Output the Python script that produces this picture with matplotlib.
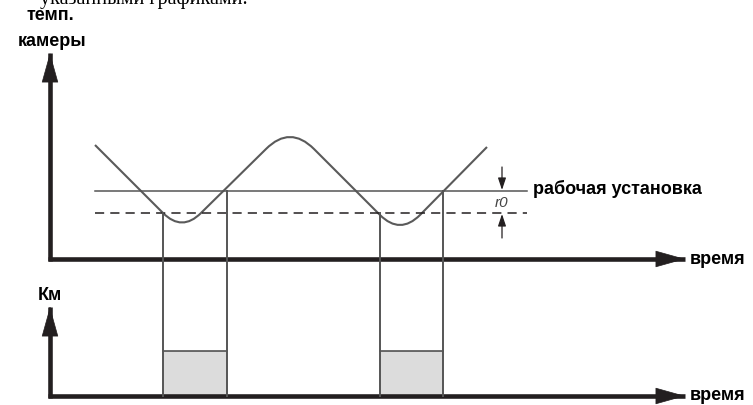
import matplotlib
matplotlib.use('Agg')
import matplotlib.pyplot as plt
from matplotlib.path import Path
from matplotlib.patches import PathPatch, Rectangle

# координаты схемы в пикселях картинки (y вниз)
setpoint = 191          # рабочая установка
lower = 213             # установка минус r0
x_left, x_right = 95, 527

# кривая температуры: опорные точки и контрольные точки скруглений
curve_pts = [(95, 145), (163, 213), (182, 232), (201, 213),
             (266, 149), (290, 125), (314, 149),
             (380, 215), (400, 235), (420, 215), (487, 147)]
curve_codes = [Path.MOVETO, Path.LINETO, Path.CURVE3, Path.CURVE3,
               Path.LINETO, Path.CURVE3, Path.CURVE3,
               Path.LINETO, Path.CURVE3, Path.CURVE3, Path.LINETO]

# компрессор: включение / выключение
km_on = [163, 380]
km_off = [227, 443]
km_level = 351

axis_top_y = 259
axis_bot_y = 396
axis_x = 50
axis_x_end = 685

axc = '#231f20'
linec = '#555555'

fig = plt.figure(figsize=(7.53, 4.05), dpi=100)
ax = fig.add_axes([0, 0, 1, 1])
ax.set_xlim(0, 753)
ax.set_ylim(405, 0)
ax.axis('off')

# обрезанная строка текста сверху
ax.text(40, 4, 'указанными графиками.', family='Liberation Serif', fontsize=14.5,
        ha='left', va='baseline', color='black')


def axis_arrow(x0, y0, x1, y1):
    ax.plot([x0, x1], [y0, y1], color=axc, lw=3.3, solid_capstyle='butt')
    ax.annotate('', xy=(x1, y1), xytext=(x1 - 0.01 * (x1 - x0), y1 - 0.01 * (y1 - y0)),
                arrowprops=dict(arrowstyle='-|>,head_length=1.0,head_width=0.28',
                                lw=0.5, color=axc, mutation_scale=20,
                                shrinkA=0, shrinkB=0))


axis_arrow(axis_x, axis_top_y + 2, axis_x, 53)
axis_arrow(axis_x - 2, axis_top_y, axis_x_end, axis_top_y)
axis_arrow(axis_x, axis_bot_y + 2, axis_x, 307)
axis_arrow(axis_x - 2, axis_bot_y, axis_x_end, axis_bot_y)

lab = dict(family='Liberation Sans', fontweight='bold', fontsize=13, color='black')
ax.text(50, 16, 'темп.', ha='center', va='center', **lab)
ax.text(52, 42, 'камеры', ha='center', va='center', **lab)
ax.text(50, 295, 'Км', ha='center', va='center', **lab)
ax.text(690, 260, 'время', ha='left', va='center', **lab)
ax.text(690, 396, 'время', ha='left', va='center', **lab)
ax.text(533, 189, 'рабочая установка', ha='left', va='center', **lab)

# уровни
ax.plot([x_left, x_right], [setpoint, setpoint], color=linec, lw=1.1)
ax.plot([x_left, x_right], [lower, lower], color=axc, lw=1.1, ls=(0, (6, 4)))

# кривая
ax.add_patch(PathPatch(Path(curve_pts, curve_codes), fill=False, ec='#5a5a5a', lw=1.5))

# работа компрессора
for a, b in zip(km_on, km_off):
    ax.add_patch(Rectangle((a, km_level), b - a, axis_bot_y - km_level,
                           fc='#dcdcdc', ec='none', zorder=1))
    ax.plot([a, b], [km_level, km_level], color='#444444', lw=1.1, zorder=2)
    ax.plot([a, a], [lower, axis_bot_y], color=linec, lw=1.4, zorder=2)
    ax.plot([b, b], [setpoint, axis_bot_y], color=linec, lw=1.4, zorder=2)

# r0
small = dict(arrowstyle='-|>,head_length=0.6,head_width=0.2', lw=0.9, color=axc,
             mutation_scale=12, shrinkA=0, shrinkB=0)
ax.annotate('', xy=(502, setpoint - 1), xytext=(502, 167), arrowprops=small)
ax.annotate('', xy=(502, lower + 1), xytext=(502, 238), arrowprops=small)
ax.text(502, 203, 'r0', family='Liberation Sans', style='italic', fontsize=11,
        ha='center', va='center', color='#444444')

fig.savefig('out.png', dpi=100)
